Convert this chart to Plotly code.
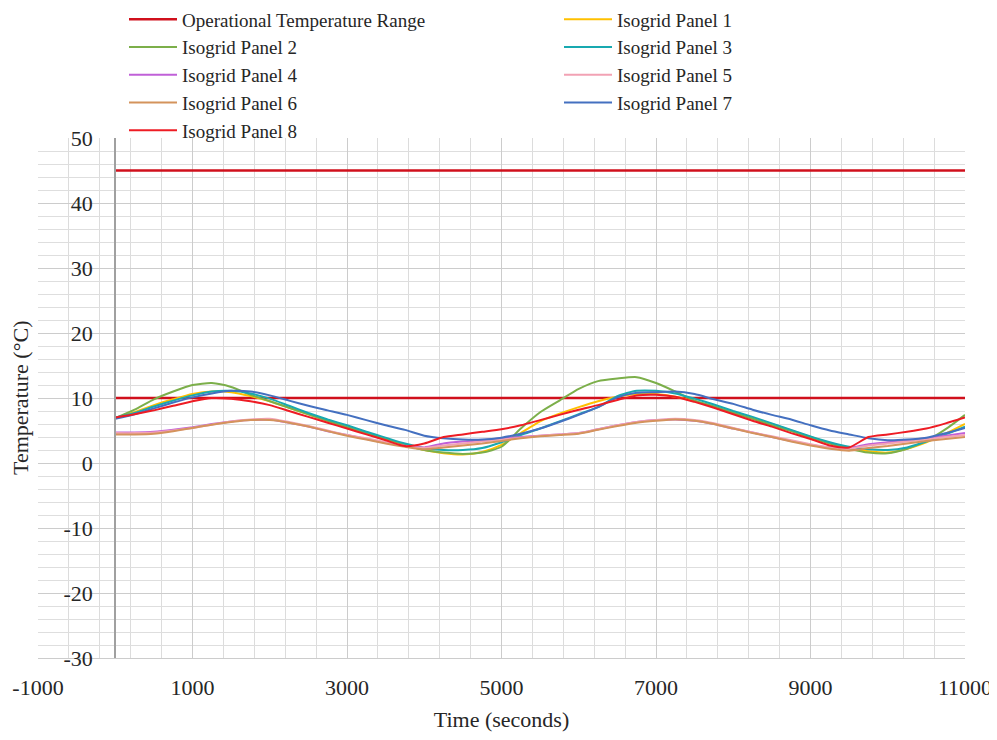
import plotly.graph_objects as go

# ---- data ----
time_s = [i * 250 for i in range(45)]  # 0 .. 11000 s

op_range_x = [0, 11000, None, 0, 11000]
op_range_y = [45, 45, None, 10, 10]

panel1 = [6.9, 7.8, 8.9, 9.8, 10.6, 11.0, 10.9, 10.3, 9.5, 8.5, 7.5, 6.5, 5.6, 4.6, 3.7, 2.8, 2.0, 1.5, 1.3, 1.7,
          2.8, 4.6, 6.4, 7.6, 8.6, 9.5, 10.2, 10.6, 10.6, 10.2, 9.5, 8.7, 7.8, 6.9, 6.0, 5.0, 4.0, 3.1, 2.3, 1.8,
          1.6, 2.2, 3.2, 4.5, 6.0]
panel2 = [6.9, 8.2, 9.8, 11.0, 12.0, 12.3, 11.7, 10.5, 9.5, 8.5, 7.5, 6.5, 5.5, 4.6, 3.7, 2.8, 2.0, 1.6, 1.4, 1.6,
          2.5, 5.3, 7.8, 9.6, 11.4, 12.6, 13.0, 13.2, 12.3, 11.0, 9.6, 8.7, 7.7, 6.8, 5.8, 4.9, 3.9, 3.0, 2.2, 1.6,
          1.5, 2.2, 3.4, 5.2, 7.4]
panel3 = [7.0, 7.7, 8.7, 9.6, 10.4, 11.0, 11.1, 10.7, 9.9, 8.8, 7.7, 6.7, 5.8, 4.8, 3.9, 3.0, 2.3, 2.0, 2.0, 2.3,
          3.2, 4.3, 5.3, 6.4, 7.5, 8.6, 10.3, 11.1, 11.1, 10.7, 9.9, 9.0, 8.0, 7.1, 6.1, 5.1, 4.1, 3.2, 2.5, 2.1,
          2.0, 2.4, 3.3, 4.4, 5.6]
panel4 = [4.7, 4.7, 4.8, 5.1, 5.5, 6.0, 6.4, 6.6, 6.7, 6.2, 5.6, 4.9, 4.3, 3.7, 3.1, 2.6, 2.4, 3.0, 3.3, 3.5,
          3.8, 4.0, 4.2, 4.4, 4.6, 5.2, 5.8, 6.3, 6.6, 6.7, 6.5, 6.0, 5.3, 4.7, 4.0, 3.4, 2.8, 2.4, 2.3, 2.9,
          3.2, 3.5, 3.8, 4.2, 4.6]
panel5 = [4.6, 4.6, 4.7, 5.0, 5.4, 5.9, 6.4, 6.7, 6.8, 6.3, 5.7, 5.0, 4.3, 3.8, 3.2, 2.6, 2.3, 2.7, 3.0, 3.3,
          3.6, 3.9, 4.2, 4.4, 4.6, 5.2, 5.8, 6.3, 6.6, 6.8, 6.6, 6.1, 5.4, 4.7, 4.1, 3.5, 2.9, 2.4, 2.2, 2.7,
          3.0, 3.3, 3.6, 4.0, 4.3]
panel6 = [4.4, 4.4, 4.5, 4.9, 5.4, 5.9, 6.3, 6.6, 6.6, 6.2, 5.6, 4.9, 4.2, 3.6, 3.0, 2.5, 2.1, 2.4, 2.7, 3.0,
          3.4, 3.8, 4.1, 4.3, 4.5, 5.1, 5.7, 6.2, 6.5, 6.7, 6.5, 6.0, 5.3, 4.6, 4.0, 3.3, 2.7, 2.2, 1.9, 2.3,
          2.6, 3.0, 3.4, 3.7, 4.0]
panel7 = [6.8, 7.5, 8.4, 9.3, 10.1, 10.7, 11.1, 11.0, 10.4, 9.6, 8.8, 8.1, 7.4, 6.6, 5.8, 5.1, 4.2, 3.8, 3.6, 3.6,
          3.9, 4.5, 5.3, 6.3, 7.4, 8.6, 10.1, 10.8, 10.9, 11.0, 10.6, 9.8, 9.1, 8.2, 7.4, 6.7, 5.8, 5.0, 4.4, 3.8,
          3.5, 3.6, 3.9, 4.6, 5.4]
panel8 = [7.0, 7.5, 8.1, 8.8, 9.5, 10.0, 9.9, 9.5, 8.9, 8.0, 7.1, 6.2, 5.3, 4.4, 3.5, 2.6, 3.0, 4.0, 4.4, 4.8,
          5.2, 5.8, 6.6, 7.4, 8.2, 8.9, 9.7, 10.4, 10.5, 10.2, 9.4, 8.5, 7.5, 6.5, 5.6, 4.6, 3.7, 2.7, 2.4, 4.0,
          4.4, 4.8, 5.3, 6.1, 7.0]

series_names = ["Isogrid Panel 1", "Isogrid Panel 2", "Isogrid Panel 3", "Isogrid Panel 4",
                "Isogrid Panel 5", "Isogrid Panel 6", "Isogrid Panel 7", "Isogrid Panel 8"]
series_values = [panel1, panel2, panel3, panel4, panel5, panel6, panel7, panel8]
series_colors = ["#FFC000", "#7CAF4A", "#18A9B0", "#C060D8", "#F2A2B4", "#D4935C", "#4470C0", "#EE1C24"]
series_legend = ["legend2", "legend", "legend2", "legend", "legend2", "legend", "legend2", "legend"]

x_ticks = [-1000, 1000, 3000, 5000, 7000, 9000, 11000]
y_ticks = [-30, -20, -10, 0, 10, 20, 30, 40, 50]

FONT = "Liberation Serif, Times New Roman, serif"
TXT = "#262626"

fig = go.Figure()
fig.add_trace(go.Scatter(x=op_range_x, y=op_range_y, mode="lines", name="Operational Temperature Range",
                         line=dict(color="#D0101C", width=2.5), connectgaps=False, legend="legend"))
for name, vals, col, lg in zip(series_names, series_values, series_colors, series_legend):
    fig.add_trace(go.Scatter(x=time_s, y=vals, mode="lines", name=name, legend=lg,
                             line=dict(color=col, width=2, shape="spline", smoothing=0.6)))

# page has an 8px body margin, so the figure is sized to fill the rest of the window
W, H = 989, 732
L, R, T, B = 30, 32, 130, 82
pw, ph = W - L - R, H - T - B

def px_x(p):  # figure pixel -> paper fraction
    return (p - L) / pw

def px_y(p):
    return 1 + (T - p) / ph

leg_font = dict(family=FONT, size=19, color=TXT)
leg_common = dict(orientation="v", xanchor="left", yanchor="top", font=leg_font, itemwidth=48,
                  bgcolor="rgba(0,0,0,0)", borderwidth=0, tracegroupgap=0)

fig.update_layout(
    width=W, height=H,
    margin=dict(l=L, r=R, t=T, b=B, autoexpand=False),
    paper_bgcolor="white", plot_bgcolor="white",
    font=dict(family=FONT, size=22, color=TXT),
    showlegend=True,
    legend=dict(x=px_x(116), y=px_y(-7.5), **leg_common),
    legend2=dict(x=px_x(551), y=px_y(-7.5), **leg_common),
    xaxis=dict(range=[-1000, 11000], tickvals=x_ticks, ticktext=[str(v) for v in x_ticks],
               showgrid=True, gridcolor="#cccccc", gridwidth=1,
               minor=dict(dtick=400, tick0=-1000, showgrid=True, gridcolor="#dcdcdc", gridwidth=1),
               zeroline=False, showline=True, linecolor="#cccccc", ticks="", automargin=False,
               ticklabelstandoff=10, tickfont=dict(family=FONT, size=22, color=TXT),
               title=dict(text="Time (seconds)", font=dict(family=FONT, size=22, color=TXT), standoff=12)),
    yaxis=dict(range=[-30, 50], tickvals=y_ticks, ticktext=[str(v) for v in y_ticks],
               anchor="free", position=px_x(107), automargin=False,
               showgrid=True, gridcolor="#cccccc", gridwidth=1,
               minor=dict(dtick=2, showgrid=True, gridcolor="#dedede", gridwidth=1),
               zeroline=False, showline=True, linecolor="#a0a0a0", linewidth=1.5, ticks="",
               ticklabelstandoff=17, tickfont=dict(family=FONT, size=22, color=TXT)),
    annotations=[dict(text="Temperature (°C)", x=px_x(12), y=0.5, xref="paper", yref="paper",
                      showarrow=False, textangle=-90, xanchor="center", yanchor="middle",
                      font=dict(family=FONT, size=22, color=TXT))],
)

fig.write_html("out.html")
